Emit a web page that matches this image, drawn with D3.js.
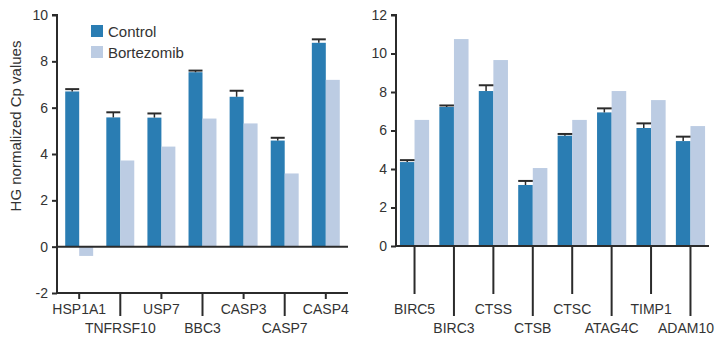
<!DOCTYPE html>
<html>
<head>
<meta charset="utf-8">
<script src="https://cdn.jsdelivr.net/npm/d3@7"></script>
<style>
  body { margin: 0; background: #fff; }
  svg { display: block; font-family: "Liberation Sans", Arial, sans-serif; }
</style>
</head>
<body>
<svg id="chart" width="716" height="339"></svg>
<script>
// two panels of paired bars, control vs bortezomib

const series = ["Control", "Bortezomib"];
const colors = ["#2a7db3", "#bccce3"];

// left panel
const genesA = ["HSP1A1", "TNFRSF10", "USP7", "BBC3", "CASP3", "CASP7", "CASP4"];
const controlA = [6.7, 5.58, 5.57, 7.53, 6.47, 4.58, 8.8];
const controlErrA = [6.8, 5.8, 5.75, 7.6, 6.73, 4.7, 8.95];
const bortezA = [-0.4, 3.72, 4.32, 5.53, 5.32, 3.16, 7.2];
const ticksA = [-2, 0, 2, 4, 6, 8, 10];

// right panel
const genesB = ["BIRC5", "BIRC3", "CTSS", "CTSB", "CTSC", "ATAG4C", "TIMP1", "ADAM10"];
const controlB = [4.36, 7.22, 8.05, 3.17, 5.73, 6.94, 6.13, 5.45];
const controlErrB = [4.46, 7.3, 8.35, 3.38, 5.82, 7.15, 6.37, 5.68];
const bortezB = [6.55, 10.75, 9.66, 4.05, 6.55, 8.05, 7.58, 6.23];
const ticksB = [0, 2, 4, 6, 8, 10, 12];

const yLabel = "HG normalized Cp values";

const W = 716;
const svg = d3.select("#chart");
const ink = "#2b2b2b";

function panel(opt) {
  const { genes, control, err, bortez, ticks, x0, x1, yTop, yBottom, domain, padOuter, padInner, baseY, tickLens } = opt;

  const x = d3.scaleBand().domain(genes).range([x0, x1])
    .paddingInner(padInner).paddingOuter(padOuter);
  const xs = d3.scaleBand().domain(series).range([0, x.bandwidth()]);
  const y = d3.scaleLinear().domain(domain).range([yBottom, yTop]);

  const g = svg.append("g");

  const rows = genes.map((d, i) => ({ gene: d, vals: [control[i], bortez[i]], err: err[i] }));

  // bars
  const grp = g.selectAll("g.grp").data(rows).join("g")
    .attr("transform", d => `translate(${x(d.gene)},0)`);
  grp.selectAll("rect").data(d => d.vals.map((v, k) => ({ v, k }))).join("rect")
    .attr("x", d => xs(series[d.k]))
    .attr("width", xs.bandwidth())
    .attr("y", d => y(Math.max(0, d.v)))
    .attr("height", d => Math.abs(y(d.v) - y(0)))
    .attr("fill", d => colors[d.k]);

  // error bars on control
  grp.append("line")
    .attr("x1", xs("Control") + xs.bandwidth() / 2).attr("x2", xs("Control") + xs.bandwidth() / 2)
    .attr("y1", d => y(d.vals[0])).attr("y2", d => y(d.err))
    .attr("stroke", ink).attr("stroke-width", 1.5);
  grp.append("line")
    .attr("x1", xs("Control")).attr("x2", xs("Control") + xs.bandwidth())
    .attr("y1", d => y(d.err)).attr("y2", d => y(d.err))
    .attr("stroke", ink).attr("stroke-width", 2);

  // y axis
  const yAxis = d3.axisLeft(y).tickValues(ticks).tickSize(5).tickPadding(4)
    .tickFormat(d => String(d));
  const ya = g.append("g").attr("transform", `translate(${x0},0)`).call(yAxis);
  ya.select(".domain").attr("stroke", ink).attr("stroke-width", 2)
    .attr("d", `M-5,${yTop}H0V${yBottom}`);
  ya.selectAll(".tick line").attr("stroke", ink).attr("stroke-width", 2);
  ya.selectAll(".tick text").attr("fill", "#333").style("font-size", "14px")
    .style("font-family", "'Liberation Sans', Arial, sans-serif");

  // zero line / x axis
  g.append("line").attr("x1", x0).attr("x2", x1).attr("y1", y(0)).attr("y2", y(0))
    .attr("stroke", ink).attr("stroke-width", 2);
  if (domain[0] < 0) {
    g.append("line").attr("x1", x0).attr("x2", x1).attr("y1", yBottom).attr("y2", yBottom)
      .attr("stroke", ink).attr("stroke-width", 2);
  }

  // category ticks and staggered labels
  const cat = g.selectAll("g.cat").data(genes).join("g")
    .attr("transform", d => `translate(${x(d) + x.bandwidth() / 2},${baseY})`);
  cat.append("line")
    .attr("y2", (d, i) => tickLens[i % 2])
    .attr("stroke", ink).attr("stroke-width", 2);
  cat.append("text")
    .attr("text-anchor", "middle")
    .attr("y", (d, i) => i % 2 ? 333 - baseY : 314 - baseY)
    .attr("fill", "#333")
    .style("font-size", "14px")
    .text(d => d)
    .attr("x", function(d) {
      // keep the label inside the picture
      const cx = x(d) + x.bandwidth() / 2;
      const half = this.getComputedTextLength() / 2;
      return Math.min(0, W - 2 - (cx + half));
    });
}

panel({
  genes: genesA, control: controlA, err: controlErrA, bortez: bortezA, ticks: ticksA,
  x0: 57, x1: 348, yTop: 15, yBottom: 293, domain: [-2, 10],
  padInner: 0.32, padOuter: 0.2, baseY: 293, tickLens: [6, 23]
});

panel({
  genes: genesB, control: controlB, err: controlErrB, bortez: bortezB, ticks: ticksB,
  x0: 396, x1: 709, yTop: 15, yBottom: 246, domain: [0, 12],
  padInner: 0.26, padOuter: 0.1, baseY: 246, tickLens: [48, 70]
});

// y label
svg.append("text")
  .attr("transform", "translate(21,126) rotate(-90)")
  .attr("text-anchor", "middle")
  .attr("fill", "#333")
  .style("font-size", "15px")
  .text(yLabel);

// legend
const lg = svg.append("g").attr("transform", "translate(91,25)");
const item = lg.selectAll("g").data(series).join("g")
  .attr("transform", (d, i) => `translate(0,${i * 21})`);
item.append("rect").attr("width", 12).attr("height", 12).attr("fill", (d, i) => colors[i]);
item.append("text").attr("x", 17).attr("y", 11.5).attr("fill", "#333")
  .style("font-size", "15px").text(d => d);
</script>
</body>
</html>
